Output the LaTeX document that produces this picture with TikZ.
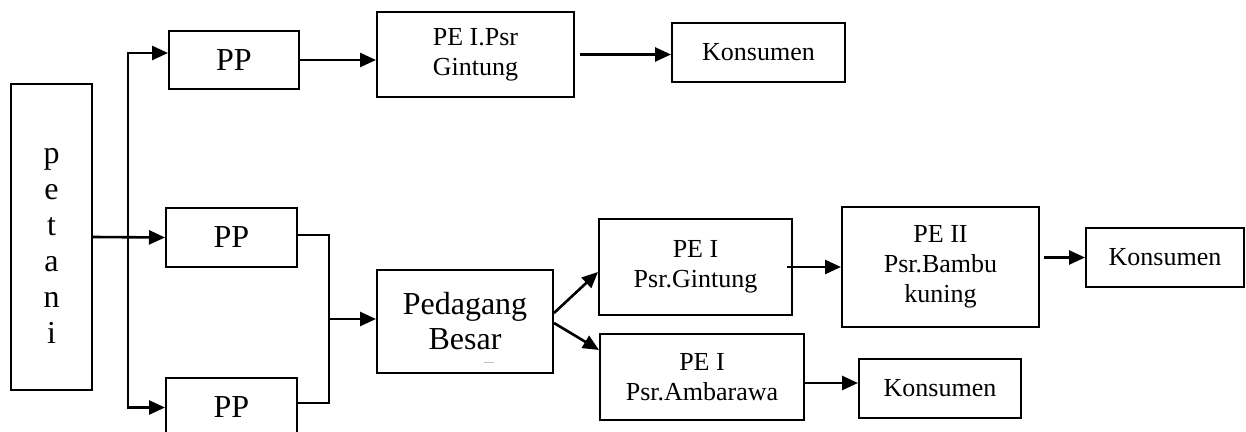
\documentclass[tikz,border=0pt]{standalone}
\usepackage{fontspec}
\setmainfont{Liberation Serif}
\usetikzlibrary{arrows.meta}

\begin{document}
\begin{tikzpicture}[
  x=0.5pt,
  y=-0.5pt,
  line join=miter,
  box/.style={draw,line width=1pt,inner sep=0pt,align=center,font=\fontsize{13}{15}\selectfont},
  bigbox/.style={box,font=\fontsize{16}{17.5}\selectfont},
  flow/.style={line width=1.3pt,-{Triangle[length=8pt,width=7pt]}},
  link/.style={line width=1pt}
]
  % Keep the frame of the original chart.
  \useasboundingbox (0,0) rectangle (1246,432);

  % Producer and the three collectors.
  \node[bigbox,minimum width=40.5pt,minimum height=153pt,font=\fontsize{16}{18}\selectfont] (petani) at (51.5,237)
    {\raisebox{-9pt}[0pt][0pt]{\begin{tabular}{@{}c@{}}p\\e\\t\\a\\n\\i\end{tabular}}};
  \node[bigbox,minimum width=65pt,minimum height=29pt] (pp1) at (234,60) {PP};
  \node[bigbox,minimum width=65.5pt,minimum height=29.5pt] (pp2) at (231.5,237.5) {PP};
  \node[bigbox,minimum width=65.5pt,minimum height=29.5pt] (pp3) at (231.5,407.5) {PP};

  % Upper channel.
  \node[box,minimum width=98.5pt,minimum height=42.5pt] (peGintungA) at (475.5,54.5) {PE I.Psr\\Gintung};
  \node[box,minimum width=86.5pt,minimum height=29.5pt] (konsumenA) at (758.5,52.5) {Konsumen};

  % Lower channel through the wholesaler.
  \node[bigbox,minimum width=88pt,minimum height=51.5pt] (pedagang) at (465,321.5) {Pedagang\\Besar};
  \node[box,minimum width=96.5pt,minimum height=48pt] (peGintungB) at (695.5,267) {PE I\\Psr.Gintung};
  \node[box,minimum width=98.5pt,minimum height=60pt] (peBambu) at (940.5,267) {PE II\\Psr.Bambu\\kuning};
  \node[box,minimum width=79pt,minimum height=29.5pt] (konsumenB) at (1165,257.5) {Konsumen};
  \node[box,minimum width=102pt,minimum height=43pt] (peAmbarawa) at (702,377) {PE I\\Psr.Ambarawa};
  \node[box,minimum width=81pt,minimum height=29.5pt] (konsumenC) at (940,388.5) {Konsumen};

  % Branch and join points.
  \coordinate (split) at (128,237);
  \coordinate (merge) at (329,319);

  % Flows from the farmer.
  \draw[flow] (petani.east) -- (pp2.west);
  \draw[flow] (split) |- ([yshift=3.5pt]pp1.west);
  \draw[flow] (split) |- (pp3.west);
  \draw[flow] (pp1.east) -- (pp1.east -| peGintungA.west);
  \draw[flow] ([xshift=2.5pt]peGintungA.east) -- (peGintungA.east -| konsumenA.west);

  % Two collectors join before the wholesaler.
  \draw[link] ([yshift=1.25pt]pp2.east) -| (merge) |- ([yshift=2.5pt]pp3.east);
  \draw[flow] (merge) -- (merge -| pedagang.west);

  % Wholesaler to the markets and consumers.
  \draw[flow] ([yshift=4.25pt]pedagang.east) -- ([yshift=-2.5pt]peGintungB.west);
  \draw[flow] ([yshift=-0.75pt]pedagang.east) -- ([yshift=13.5pt]peAmbarawa.west);
  \draw[flow] ([xshift=-3pt]peGintungB.east) -- (peBambu.west);
  \draw[flow] ([xshift=2pt]konsumenB.west -| peBambu.east) -- (konsumenB.west);
  \draw[flow] ([yshift=-3pt]peAmbarawa.east) -- ([yshift=-3pt]peAmbarawa.east -| konsumenC.west);

  % Stray mark under Besar.
  \draw[gray!50,line width=0.5pt] (484,362) -- (494,362);
\end{tikzpicture}
\end{document}
